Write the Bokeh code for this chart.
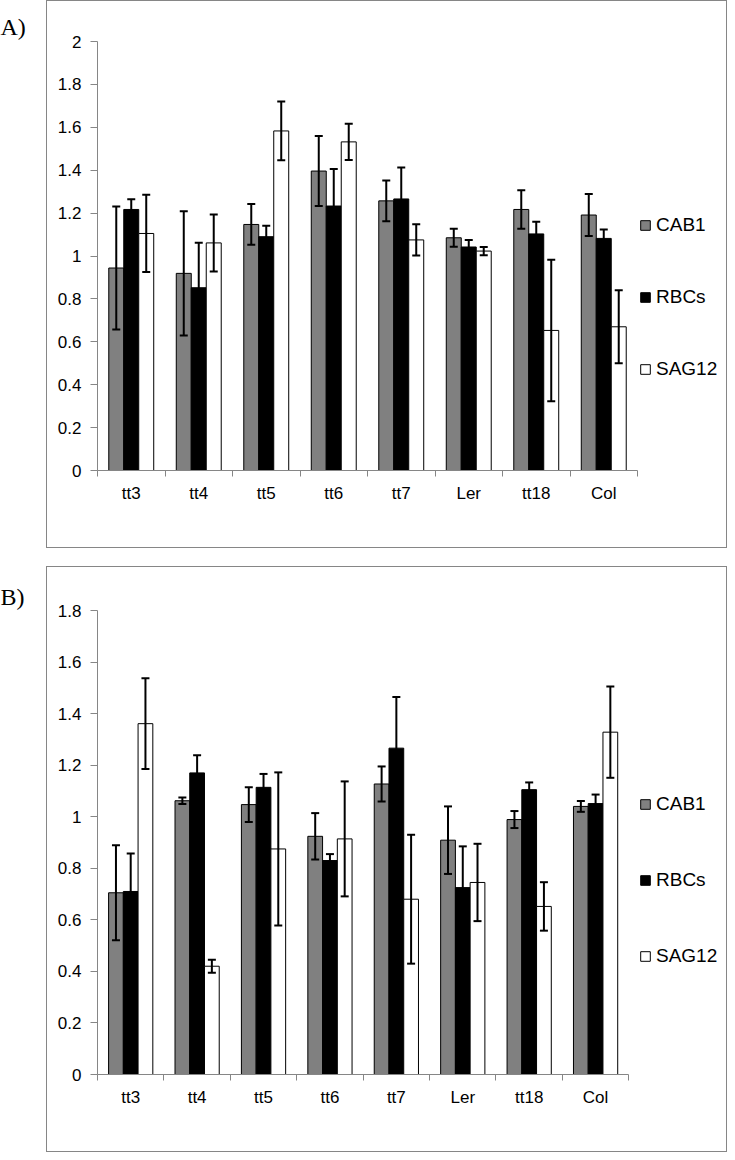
from bokeh.plotting import figure
from bokeh.models import (ColumnDataSource, Whisker, TeeHead, FixedTicker,
                          NumeralTickFormatter, Legend, LegendItem, Range1d)
from bokeh.layouts import column, row
from bokeh.embed import file_html
from bokeh.resources import INLINE
from bokeh.transform import dodge

categories = ["tt3", "tt4", "tt5", "tt6", "tt7", "Ler", "tt18", "Col"]
series = ["CAB1", "RBCs", "SAG12"]
colors = ["#808080", "#000000", "#ffffff"]

# Panel A
a_cab1 = [0.944, 0.919, 1.147, 1.396, 1.257, 1.085, 1.217, 1.191]
a_cab1_err = [0.287, 0.290, 0.095, 0.163, 0.095, 0.042, 0.090, 0.098]
a_rbcs = [1.217, 0.852, 1.090, 1.233, 1.266, 1.042, 1.103, 1.082]
a_rbcs_err = [0.047, 0.210, 0.051, 0.173, 0.147, 0.033, 0.057, 0.042]
a_sag12 = [1.105, 1.061, 1.583, 1.532, 1.075, 1.023, 0.653, 0.670]
a_sag12_err = [0.180, 0.133, 0.137, 0.085, 0.073, 0.019, 0.330, 0.170]
a_y_ticks = [0, 0.2, 0.4, 0.6, 0.8, 1, 1.2, 1.4, 1.6, 1.8, 2]

# Panel B
b_cab1 = [0.705, 1.062, 1.047, 0.924, 1.127, 0.909, 0.989, 1.040]
b_cab1_err = [0.184, 0.013, 0.067, 0.090, 0.068, 0.131, 0.033, 0.021]
b_rbcs = [0.710, 1.170, 1.114, 0.830, 1.266, 0.725, 1.105, 1.051]
b_rbcs_err = [0.147, 0.068, 0.052, 0.025, 0.198, 0.160, 0.028, 0.035]
b_sag12 = [1.361, 0.420, 0.875, 0.914, 0.680, 0.745, 0.652, 1.328]
b_sag12_err = [0.176, 0.025, 0.297, 0.223, 0.250, 0.150, 0.094, 0.177]
b_y_ticks = [0, 0.2, 0.4, 0.6, 0.8, 1, 1.2, 1.4, 1.6, 1.8]

FONT = "Liberation Sans"
AXIS_GRAY = "#868686"
BAR_W = 0.222
OFFSETS = [-BAR_W, 0.0, BAR_W]
FIG_W = 681
LBL_W = 46


def make_panel(vals, errs, y_ticks, height, mb_top, mb_bottom, cat_px,
               legend_loc, legend_spacing):
    n = len(categories)
    data = {"x": [i + 0.5 for i in range(n)]}
    for k, (v, e) in enumerate(zip(vals, errs)):
        data[f"v{k}"] = v
        data[f"up{k}"] = [a + b for a, b in zip(v, e)]
        data[f"lo{k}"] = [a - b for a, b in zip(v, e)]
    src = ColumnDataSource(data)

    frame_w = FIG_W - 50
    x_end = n * frame_w / cat_px  # frame extends to the right to hold the legend
    p = figure(width=FIG_W, height=height, output_backend="svg", toolbar_location=None,
               x_range=Range1d(0, x_end), y_range=Range1d(0, y_ticks[-1]),
               min_border_left=50, min_border_right=0,
               min_border_top=mb_top, min_border_bottom=mb_bottom)
    p.outline_line_color = None
    p.grid.visible = False
    p.background_fill_color = "white"
    p.border_fill_color = "white"
    p.styles = {"border": f"1px solid {AXIS_GRAY}"}

    items = []
    for k in range(3):
        r = p.vbar(x=dodge("x", OFFSETS[k]), top=f"v{k}", bottom=0, width=BAR_W,
                   source=src, fill_color=colors[k], line_color="black", line_width=1)
        items.append(LegendItem(label=series[k], renderers=[r]))
    for k in range(3):
        w = Whisker(source=src, base=dodge("x", OFFSETS[k]), upper=f"up{k}", lower=f"lo{k}",
                    line_color="black", line_width=2, level="overlay",
                    upper_head=TeeHead(size=8, line_color="black", line_width=2),
                    lower_head=TeeHead(size=8, line_color="black", line_width=2))
        p.add_layout(w)

    # x axis: labels at category centres, ticks at category boundaries
    xa = p.xaxis[0]
    xa.bounds = (0, n)
    xa.ticker = FixedTicker(ticks=[i + 0.5 for i in range(n)],
                            minor_ticks=[float(i) for i in range(n + 1)])
    xa.major_label_overrides = {i + 0.5: c for i, c in enumerate(categories)}
    xa.major_tick_line_color = None
    xa.major_tick_out = 6
    xa.major_tick_in = 0
    xa.minor_tick_line_color = AXIS_GRAY
    xa.minor_tick_out = 6
    xa.minor_tick_in = 0
    xa.axis_line_color = AXIS_GRAY
    xa.major_label_text_font = FONT
    xa.major_label_text_font_size = "17px"
    xa.major_label_text_color = "black"
    xa.major_label_standoff = 7

    ya = p.yaxis[0]
    ya.ticker = FixedTicker(ticks=y_ticks)
    ya.formatter = NumeralTickFormatter(format="0.[0]")
    ya.axis_line_color = AXIS_GRAY
    ya.major_tick_line_color = AXIS_GRAY
    ya.major_tick_out = 7
    ya.major_tick_in = 0
    ya.minor_tick_line_color = None
    ya.major_label_text_font = FONT
    ya.major_label_text_font_size = "17px"
    ya.major_label_text_color = "black"
    ya.major_label_standoff = 9

    legend = Legend(items=items, location=legend_loc, orientation="vertical",
                    spacing=legend_spacing, glyph_width=12, glyph_height=12,
                    label_height=24, label_standoff=5, padding=0, margin=0,
                    border_line_color=None, background_fill_alpha=0,
                    label_text_font=FONT, label_text_font_size="19px",
                    label_text_color="black")
    p.add_layout(legend)
    return p


def label_fig(txt, height, mb_top, mb_bottom, standoff):
    # panel letter drawn as the title of a narrow, empty figure whose vertical borders
    # equal those of the panel next to it
    f = figure(width=LBL_W, height=height, output_backend="svg", title=txt,
               toolbar_location=None, x_axis_type=None, y_axis_type=None,
               min_border_left=0, min_border_right=0,
               min_border_top=mb_top, min_border_bottom=mb_bottom,
               x_range=Range1d(0, 1), y_range=Range1d(0, 1))
    f.outline_line_color = None
    f.grid.visible = False
    f.title.text_font = "Liberation Serif"
    f.title.text_font_size = "24px"
    f.title.text_font_style = "normal"
    f.title.text_color = "black"
    f.title.align = "left"
    f.title.offset = 0
    f.title.standoff = standoff
    return f


A_H, A_TOP, A_BOT = 548, 40, 79
B_H, B_TOP, B_BOT = 586, 43, 79

pA = make_panel([a_cab1, a_rbcs, a_sag12], [a_cab1_err, a_rbcs_err, a_sag12_err], a_y_ticks,
                height=A_H, mb_top=A_TOP, mb_bottom=A_BOT, cat_px=540,
                legend_loc=(542, 89), legend_spacing=48)
pB = make_panel([b_cab1, b_rbcs, b_sag12], [b_cab1_err, b_rbcs_err, b_sag12_err], b_y_ticks,
                height=B_H, mb_top=B_TOP, mb_bottom=B_BOT, cat_px=531.3,
                legend_loc=(542, 106), legend_spacing=52)

lA = label_fig("A)", A_H, A_TOP, A_BOT, 2)
lB = label_fig("B)", B_H, B_TOP, B_BOT, 0)

layout = column(row(lA, pA, spacing=0), row(lB, pB, spacing=0), spacing=18)

open("out.html", "w").write(file_html(layout, INLINE))
